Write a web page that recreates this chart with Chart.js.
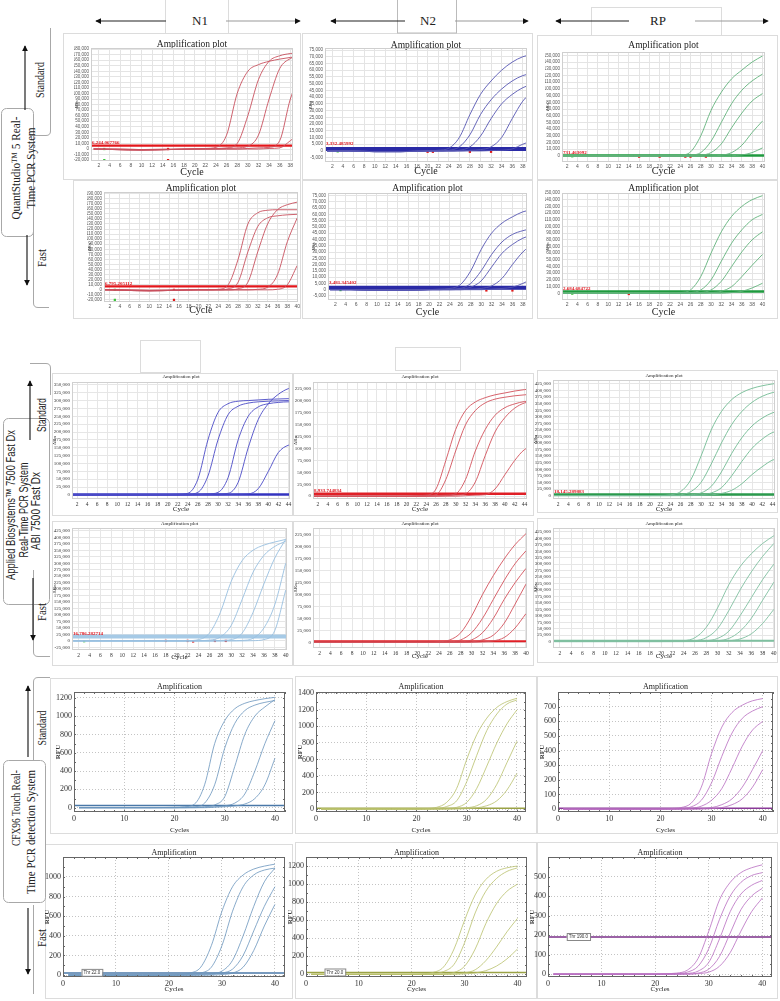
<!DOCTYPE html>
<html>
<head>
<meta charset="utf-8">
<title>Amplification plots</title>
<script src="https://cdn.jsdelivr.net/npm/chart.js@4.4.1/dist/chart.umd.min.js"></script>
<style>
  body { margin: 0; background: #fff; }
  #page { position: relative; width: 780px; height: 1001px; overflow: hidden; background: #fff; }
  #page canvas { position: absolute; }
  #deco { position: absolute; left: 0; top: 0; }
</style>
</head>
<body>
<div id="page">
<svg id="deco" width="780" height="1001" xmlns="http://www.w3.org/2000/svg" fill="none">
  <defs>
    <marker id="ah" viewBox="0 0 8 8" refX="7" refY="4" markerWidth="5" markerHeight="5" orient="auto">
      <path d="M0,0 L8,4 L0,8 z" fill="#111"/>
    </marker>
  </defs>
  <!-- panel frames -->
  <g stroke="#dcdcdc" stroke-width="1">
    <rect x="63.5" y="33.5" width="237" height="146"/>
    <rect x="302.5" y="33.5" width="230" height="146"/>
    <rect x="537.5" y="35.5" width="240" height="144"/>
    <rect x="73.5" y="180.5" width="227" height="138"/>
    <rect x="302.5" y="180.5" width="230" height="138"/>
    <rect x="537.5" y="180.5" width="240" height="138"/>
    <rect x="52.5" y="373.5" width="240" height="142"/>
    <rect x="293.5" y="373.5" width="240" height="142"/>
    <rect x="537.5" y="370.5" width="240" height="142"/>
    <rect x="52.5" y="521.5" width="240" height="144"/>
    <rect x="293.5" y="521.5" width="240" height="144"/>
    <rect x="537.5" y="518.5" width="240" height="144"/>
    <rect x="50.5" y="678.5" width="242" height="155"/>
    <rect x="295.5" y="676.5" width="241" height="157"/>
    <rect x="537.5" y="676.5" width="240" height="157"/>
    <rect x="45.5" y="844.5" width="247" height="154"/>
    <rect x="295.5" y="842.5" width="241" height="156"/>
    <rect x="537.5" y="842.5" width="240" height="156"/>
    <!-- header boxes -->
    <path d="M165.5,0 V33 M228.5,0 V33"/>
    <rect x="397.5" y="-1" width="59" height="34" stroke="#bbb"/>
    <rect x="591.5" y="7.5" width="130" height="28"/>
    <rect x="140.5" y="340.5" width="60" height="32"/>
    <rect x="395.5" y="347.5" width="65" height="23"/>
  </g>
  <!-- side label boxes -->
  <g stroke="#a8a8a8" stroke-width="1">
    <path d="M50.5,28 V131 Q50.5,135.5 46,135.5 H30"/>
    <rect x="1.5" y="108.5" width="32" height="128" rx="5"/>
    <path d="M33.5,205 V303 Q33.5,307.5 38,307.5 H49"/>
    <path d="M30,363.5 H46 Q50.5,363.5 50.5,368 V395"/>
    <rect x="3.5" y="418.5" width="46" height="186" rx="5"/>
    <path d="M33.5,570 V652 Q33.5,656.5 38,656.5 H50"/>
    <path d="M33.5,760 V682 Q33.5,677.5 38,677.5 H50"/>
    <rect x="3.5" y="760.5" width="42" height="142" rx="5"/>
    <path d="M33.5,905 V994"/>
  </g>
  <!-- arrows -->
  <g stroke="#222" stroke-width="1.2" marker-end="url(#ah)">
    <line x1="166" y1="21" x2="96" y2="21"/>
    <line x1="405" y1="21" x2="331" y2="21"/>
    <line x1="629" y1="21" x2="556" y2="21"/>
    <line x1="25" y1="110" x2="25" y2="46"/>
    <line x1="27" y1="235" x2="27" y2="285"/>
    <line x1="30" y1="440" x2="30" y2="381"/>
    <line x1="33" y1="578" x2="33" y2="640"/>
    <line x1="28" y1="757" x2="28" y2="686"/>
    <line x1="28" y1="908" x2="28" y2="974"/>
  </g>
  <g stroke="#999" stroke-width="1.2" marker-end="url(#ah)">
    <line x1="226" y1="21" x2="300" y2="21"/>
    <line x1="455" y1="21" x2="528" y2="21"/>
    <line x1="695" y1="21" x2="768" y2="21"/>
  </g>
  <!-- texts -->
  <g fill="#222" stroke="none" font-family="Liberation Serif, serif">
    <text x="200" y="25" font-size="13" text-anchor="middle">N1</text>
    <text x="428" y="25" font-size="13" text-anchor="middle">N2</text>
    <text x="658" y="25" font-size="13" text-anchor="middle">RP</text>

    <text transform="translate(15,168) rotate(-90)" font-size="13" text-anchor="middle" dominant-baseline="central" textLength="103" lengthAdjust="spacingAndGlyphs">QuantStudio™ 5 Real-</text>
    <text transform="translate(30,168) rotate(-90)" font-size="13" text-anchor="middle" dominant-baseline="central" textLength="81" lengthAdjust="spacingAndGlyphs">Time PCR System</text>
    <text transform="translate(40,80) rotate(-90)" font-size="12" text-anchor="middle" dominant-baseline="central" textLength="36" lengthAdjust="spacingAndGlyphs">Standard</text>
    <text transform="translate(42,258) rotate(-90)" font-size="12" text-anchor="middle" dominant-baseline="central" textLength="18" lengthAdjust="spacingAndGlyphs">Fast</text>

    <g font-family="Liberation Sans, sans-serif">
      <text transform="translate(10,505) rotate(-90)" font-size="13" text-anchor="middle" dominant-baseline="central" textLength="150" lengthAdjust="spacingAndGlyphs">Applied Biosystems™ 7500 Fast Dx</text>
      <text transform="translate(23,510) rotate(-90)" font-size="13" text-anchor="middle" dominant-baseline="central" textLength="95" lengthAdjust="spacingAndGlyphs">Real-Time PCR System</text>
      <text transform="translate(35,511) rotate(-90)" font-size="13" text-anchor="middle" dominant-baseline="central" textLength="78" lengthAdjust="spacingAndGlyphs">ABI 7500 Fast Dx</text>
      <text transform="translate(42,415) rotate(-90)" font-size="12" text-anchor="middle" dominant-baseline="central" textLength="34" lengthAdjust="spacingAndGlyphs">Standard</text>
    </g>
    <text transform="translate(42,612) rotate(-90)" font-size="12" text-anchor="middle" dominant-baseline="central" textLength="18" lengthAdjust="spacingAndGlyphs">Fast</text>

    <text transform="translate(15,808) rotate(-90)" font-size="13" text-anchor="middle" dominant-baseline="central" textLength="76" lengthAdjust="spacingAndGlyphs">CFX96 Touch Real-</text>
    <text transform="translate(30,832) rotate(-90)" font-size="13" text-anchor="middle" dominant-baseline="central" textLength="124" lengthAdjust="spacingAndGlyphs">Time PCR detection System</text>
    <text transform="translate(42,728) rotate(-90)" font-size="12" text-anchor="middle" dominant-baseline="central" textLength="35" lengthAdjust="spacingAndGlyphs">Standard</text>
    <text transform="translate(42,938) rotate(-90)" font-size="12" text-anchor="middle" dominant-baseline="central" textLength="18" lengthAdjust="spacingAndGlyphs">Fast</text>
  </g>
</svg>
</div>

<script>
const cyc40 = [1, 5, 10, 15, 20, 22, 24, 26, 28, 30, 32, 34, 36, 38, 40];
const cyc45 = [1, 5, 10, 15, 20, 22, 24, 26, 28, 30, 32, 34, 36, 38, 40, 42, 44, 45];

// x tick labels
const xEven38 = [2,4,6,8,10,12,14,16,18,20,22,24,26,28,30,32,34,36,38];
const xEven40 = [2,4,6,8,10,12,14,16,18,20,22,24,26,28,30,32,34,36,38,40];
const xEven44 = [2,4,6,8,10,12,14,16,18,20,22,24,26,28,30,32,34,36,38,40,42,44];
const xCfx = [0, 10, 20, 30, 40];

// y tick labels (QuantStudio / ABI in thousands of dRn, CFX in RFU)
const yQsStdN1 = [-20,-10,0,10,20,30,40,50,60,70,80,90,100,110,120,130,140,150,160,170,180];
const yQsN2 = [-5,0,5,10,15,20,25,30,35,40,45,50,55,60,65,70,75];
const yQsRP = [0,10,20,30,40,50,60,70,80,90,100,110,120,130,140,150];
const yQsFastN1 = [-20,-10,0,10,20,30,40,50,60,70,80,90,100,110,120,130,140,150,160,170,180,190];
const yAbi350 = [0,25,50,75,100,125,150,175,200,225,250,275,300,325,350];
const yAbi225 = [0,25,50,75,100,125,150,175,200,225];
const yAbi425 = [0,25,50,75,100,125,150,175,200,225,250,275,300,325,350,375,400,425];
const yAbiFastN1 = [-25,0,25,50,75,100,125,150,175,200,225,250,275,300,325,350,375,400,425];
const yCfx1200 = [0,200,400,600,800,1000,1200];
const yCfx1400 = [0,200,400,600,800,1000,1200,1400];
const yCfx700 = [0,100,200,300,400,500,600,700];
const yCfx1000 = [0,200,400,600,800,1000];
const yCfx500 = [0,100,200,300,400,500];

// QuantStudio 5, standard run (thousands)
const qsStdN1 = [
  [0,-1,-2,-1,0,1,3,25,100,140,152,158,162,165,167],
  [0,-1,-2,-1,0,0,1,2,10,60,125,158,168,172,174],
  [0,-1,-2,-1,0,0,0,1,2,5,25,90,145,163,170],
  [0,0,-1,-1,0,0,0,0,0,1,2,3,15,90,135],
  [0,0,-1,0,0,0,0,0,0,0,0,1,2,15,30]
];
const qsStdN2 = [
  [0,0,-0.5,-0.5,0,0.5,2,10,27,42,52,60,66,70,72],
  [0,0,-0.5,-0.5,0,0,0.5,3,12,27,38,46,52,56,58],
  [0,0,-0.5,-0.5,0,0,0,0.5,3,11,24,35,42,47,50],
  [0,0,-0.5,-0.5,0,0,0,0,0.5,1,3,10,24,37,45],
  [0,0,-0.5,-0.5,0,0,0,0,0,0,0.3,0.5,1.5,5,8]
];
const qsStdRP = [
  [0,0,0,0,0,0,1,6,30,68,95,115,128,140,149],
  [0,0,0,0,0,0,0,1,5,22,50,78,98,112,122],
  [0,0,0,0,0,0,0,0,1,5,18,42,64,82,93],
  [0,0,0,0,0,0,0,0,0,0,1,5,16,35,52],
  [0,0,0,0,0,0,0,0,0,0,0,0.5,1.5,5,12]
];
// QuantStudio 5, fast run
const qsFastN1 = [
  [0,-1,-2,-1,0,0,1,10,60,130,152,157,158,158,158],
  [0,-1,-2,-1,0,0,0,2,15,75,125,142,146,148,149],
  [0,-1,-2,-1,0,0,0,0,2,15,75,130,158,168,173],
  [0,0,-1,-1,0,0,0,0,0,0,1,5,30,95,142],
  [0,0,-1,0,0,0,0,0,0,0,0,0,1,10,48]
];
const qsFastN2 = [
  [0,0,-0.5,-0.5,0,0.5,1,4,15,32,45,53,58,62,64],
  [0,0,-0.5,-0.5,0,0,0.5,1,5,15,28,38,44,47,49],
  [0,0,-0.5,-0.5,0,0,0,0.5,2,7,18,29,36,41,44],
  [0,0,-0.5,-0.5,0,0,0,0,0.5,1,3,9,20,30,37],
  [0,0,-0.5,-0.5,0,0,0,0,0,0,0.5,1,2,5,9]
];
const qsFastRP = [
  [0,0,0,0,0,0,1,5,25,60,92,115,130,140,146],
  [0,0,0,0,0,0,0,1,5,20,48,75,95,110,118],
  [0,0,0,0,0,0,0,0,1,5,18,40,62,80,92],
  [0,0,0,0,0,0,0,0,0,1,3,10,25,42,58],
  [0,0,0,0,0,0,0,0,0,0,0,1,3,8,15]
];

// ABI 7500 Fast Dx, standard run (thousands, 45 cycles)
const abiStdN1 = [
  [0,0,0,0,1,2,5,50,175,262,290,298,300,302,304,305,306,306],
  [0,0,0,0,0,1,2,8,60,175,255,282,292,296,298,299,300,300],
  [0,0,0,0,0,0,1,2,3,8,55,175,250,280,290,294,296,296],
  [0,0,0,0,0,0,0,1,2,3,5,40,150,240,290,320,338,340],
  [0,0,0,0,0,0,0,0,0,0,1,2,3,20,75,135,158,160]
];
const abiStdN2 = [
  [0,0,0,0,0,1,2,15,75,140,180,198,207,213,217,221,224,225],
  [0,0,0,0,0,0,1,3,35,95,150,180,196,204,208,211,213,214],
  [0,0,0,0,0,0,0,1,2,5,35,95,140,170,186,194,199,200],
  [0,0,0,0,0,0,0,0,1,2,5,30,85,135,165,185,196,198],
  [0,0,0,0,0,0,0,0,0,0,1,2,3,15,45,75,98,102]
];
const abiStdRP = [
  [0,0,0,0,0,1,3,15,60,150,250,320,365,392,408,418,425,428],
  [0,0,0,0,0,0,1,3,15,50,120,200,270,320,355,378,392,396],
  [0,0,0,0,0,0,0,1,3,10,35,90,160,220,265,295,315,320],
  [0,0,0,0,0,0,0,0,1,3,10,30,75,130,180,215,240,245],
  [0,0,0,0,0,0,0,0,0,1,3,8,20,45,80,110,135,140]
];
// ABI 7500 Fast Dx, fast run
const abiFastN1 = [
  [0,0,0,0,0,1,5,30,110,230,310,350,370,382,392],
  [0,0,0,0,0,0,1,3,15,60,160,265,330,365,385],
  [0,0,0,0,0,0,0,0,2,5,30,110,220,320,392],
  [0,0,0,0,0,0,0,0,0,1,2,10,50,140,300],
  [0,0,0,0,0,0,0,0,0,0,0,1,5,40,196]
];
const abiFastN2 = [
  [0,0,0,0,0,0,1,5,20,55,100,140,175,205,228],
  [0,0,0,0,0,0,0,1,5,20,50,90,130,165,192],
  [0,0,0,0,0,0,0,0,1,5,20,50,90,125,155],
  [0,0,0,0,0,0,0,0,0,1,5,15,40,80,122],
  [0,0,0,0,0,0,0,0,0,0,1,3,10,30,60]
];
const abiFastRP = [
  [0,0,0,0,0,1,3,15,55,130,220,290,340,380,410],
  [0,0,0,0,0,0,1,3,15,50,120,200,270,330,380],
  [0,0,0,0,0,0,0,1,3,12,40,100,170,240,300],
  [0,0,0,0,0,0,0,0,1,3,12,40,90,160,230],
  [0,0,0,0,0,0,0,0,0,1,3,10,30,70,125]
];

// CFX96 Touch, standard run (RFU)
const cfxStdN1 = [
  [0,0,0,0,5,10,40,250,700,950,1080,1140,1170,1190,1205],
  [0,0,0,0,0,5,10,50,250,650,920,1060,1120,1150,1170],
  [0,0,0,0,0,0,5,10,30,120,450,800,1000,1100,1180],
  [0,0,0,0,0,0,0,5,10,20,50,150,400,700,950],
  [0,0,0,0,0,0,0,0,5,10,20,40,100,250,540]
];
const cfxStdN2 = [
  [0,0,0,0,0,5,20,80,250,600,900,1100,1230,1300,1340],
  [0,0,0,0,0,0,5,30,100,330,650,950,1150,1270,1320],
  [0,0,0,0,0,0,0,5,20,80,250,520,800,1030,1200],
  [0,0,0,0,0,0,0,0,5,15,40,120,300,560,820],
  [0,0,0,0,0,0,0,0,0,5,15,40,100,230,430]
];
const cfxStdRP = [
  [0,0,0,0,0,3,10,40,150,380,560,660,710,740,755],
  [0,0,0,0,0,0,3,15,60,180,360,520,620,670,700],
  [0,0,0,0,0,0,0,5,20,60,140,280,430,540,600],
  [0,0,0,0,0,0,0,0,3,10,30,70,150,270,400],
  [0,0,0,0,0,0,0,0,0,3,10,30,70,150,270]
];
// CFX96 Touch, fast run
const cfxFastN1 = [
  [0,0,0,0,0,5,20,80,300,650,900,1020,1080,1110,1130],
  [0,0,0,0,0,0,5,20,80,300,650,900,1020,1070,1090],
  [0,0,0,0,0,0,0,5,15,40,150,400,700,950,1090],
  [0,0,0,0,0,0,0,0,5,20,60,200,450,700,900],
  [0,0,0,0,0,0,0,0,0,5,20,80,250,500,720]
];
const cfxFastN2 = [
  [0,0,0,0,0,5,20,80,280,600,880,1050,1140,1180,1200],
  [0,0,0,0,0,0,5,30,110,350,680,920,1060,1140,1180],
  [0,0,0,0,0,0,0,5,20,90,280,560,780,920,1000],
  [0,0,0,0,0,0,0,0,5,15,50,150,300,470,620],
  [0,0,0,0,0,0,0,0,0,5,15,40,90,170,280]
];
const cfxFastRP = [
  [0,0,0,0,0,2,5,20,80,220,380,470,520,545,560],
  [0,0,0,0,0,0,2,10,40,130,280,400,470,505,520],
  [0,0,0,0,0,0,0,3,15,60,180,320,410,455,480],
  [0,0,0,0,0,0,0,0,5,25,90,210,330,400,440],
  [0,0,0,0,0,0,0,0,2,10,40,110,220,320,390]
];

// well markers (cycle, value)
const qsStdN1Red = [{x:15,y:0},{x:15,y:-20}], qsStdN1Green = [{x:3,y:0},{x:3,y:-20}];
const qsStdN2Red = [{x:20,y:-0.6},{x:21,y:-0.6},{x:28,y:-0.6},{x:32,y:-0.6}], qsStdN2Green = [{x:3,y:-0.3}];
const qsStdRPRed = [{x:16,y:-1},{x:20,y:-1},{x:25,y:-1},{x:26,y:-1},{x:29,y:-1}], qsStdRPGreen = [{x:3,y:-0.5}];
const qsFastN1Red = [{x:15,y:0},{x:15,y:-20}], qsFastN1Green = [{x:3,y:0},{x:3,y:-20}];
const qsFastN2Red = [{x:31,y:-0.6},{x:36,y:-0.6}], qsFastN2Green = [{x:3,y:-0.3}];
const qsFastRPRed = [{x:14,y:-1}], qsFastRPGreen = [{x:3,y:-0.5}];
const abiFastN1Red = [{x:18,y:0},{x:22,y:0},{x:23,y:-2},{x:27,y:0},{x:29,y:0}], abiFastN1Green = [{x:3,y:-1}];

const page = document.getElementById('page');

const styles = {
  qs: { tick: {family:'Liberation Sans', size:4.5}, tickCol:'#555', grid:'#e4e4e4', frame:'#cfcfcf',
        title: '9.5px "Liberation Serif"', xTitle:'Cycle', xTitleFont:{family:'Liberation Serif', size:10},
        yTitle:'ΔRn', yTitleFont:{family:'Liberation Sans', size:4}, lw:0.9, dash:[] },
  abi: { tick: {family:'Liberation Serif', size:5}, tickCol:'#333', grid:'#e6e6e6', frame:'#d0d0d0',
        title: '5px "Liberation Serif"', xTitle:'Cycle', xTitleFont:{family:'Liberation Serif', size:7},
        yTitle:'ΔRn', yTitleFont:{family:'Liberation Serif', size:5}, lw:0.9, dash:[] },
  cfx: { tick: {family:'Liberation Serif', size:8}, tickCol:'#333', grid:'#c4c4c4', frame:'#666',
        title: '8px "Liberation Serif"', xTitle:'Cycles', xTitleFont:{family:'Liberation Serif', size:7},
        yTitle:'RFU', yTitleFont:{family:'Liberation Serif', size:7, weight:'bold'}, lw:0.8, dash:[1,2] }
};

const specs = [
  // row 1: QuantStudio standard
  {style:'qs', title:'Amplification plot', l:91, r:293, t:48, b:161, tY:44, yw:17, xh:17,
   x:[0.5,38.5], xt:xEven38, y:[-21.6,182], yt:yQsStdN1, cyc:cyc40, curves:qsStdN1, col:'#c8505e',
   thr:6.244, thrCol:'#e3161b', thrW:2.2, thrLabel:'6,244.067766', red:qsStdN1Red, green:qsStdN1Green},
  {style:'qs', title:'Amplification plot', l:325, r:527, t:48, b:162, tY:45, yw:17, xh:15,
   x:[0.6,38.8], xt:xEven38, y:[-8.2,76.5], yt:yQsN2, cyc:cyc40, curves:qsStdN2, col:'#5656b2',
   thr:1.4, thrCol:'#2a2aa6', thrW:4, thrLabel:'3,332.485992', thrLabelY:3.3, red:qsStdN2Red, green:qsStdN2Green},
  {style:'qs', title:'Amplification plot', l:562, r:765, t:52, b:162, tY:45, yw:17, xh:15,
   x:[1,40.5], xt:xEven40, y:[-9,155], yt:yQsRP, cyc:cyc40, curves:qsStdRP, col:'#62b27c',
   thr:0.8, thrCol:'#1e9a3e', thrW:2.5, thrLabel:'731.463092', red:qsStdRPRed, green:qsStdRPGreen},
  // row 2: QuantStudio fast
  {style:'qs', title:'Amplification plot', l:104, r:298, t:192, b:302, tY:188, yw:17, xh:14,
   x:[0.8,40.1], xt:xEven40, y:[-24,193], yt:yQsFastN1, cyc:cyc40, curves:qsFastN1, col:'#c8505e',
   thr:6.8, thrCol:'#e3161b', thrW:2.2, thrLabel:'6,795.205112', red:qsFastN1Red, green:qsFastN1Green},
  {style:'qs', title:'Amplification plot', l:328, r:527, t:193, b:300, tY:188, yw:17, xh:18,
   x:[0.6,38.8], xt:xEven38, y:[-8.2,77], yt:yQsN2, cyc:cyc40, curves:qsFastN2, col:'#5656b2',
   thr:1.6, thrCol:'#2a2aa6', thrW:4, thrLabel:'3,481.345402', thrLabelY:3.5, red:qsFastN2Red, green:qsFastN2Green},
  {style:'qs', title:'Amplification plot', l:562, r:765, t:193, b:300, tY:188, yw:17, xh:18,
   x:[1,40.5], xt:xEven40, y:[-10,150], yt:yQsRP, cyc:cyc40, curves:qsFastRP, col:'#62b27c',
   thr:2.7, thrCol:'#1e9a3e', thrW:2.5, thrLabel:'2,684.684722', red:qsFastRPRed, green:qsFastRPGreen},
  // row 3: ABI standard
  {style:'abi', title:'Amplification plot', l:72, r:290, t:382, b:499, tY:377, yw:20, xh:14,
   x:[1,44.3], xt:xEven44, y:[-13,359], yt:yAbi350, cyc:cyc45, curves:abiStdN1, col:'#4a4ac6',
   thr:1, thrCol:'#3434c0', thrW:2.5},
  {style:'abi', title:'Amplification plot', l:313, r:527, t:382, b:499, tY:377, yw:20, xh:14,
   x:[1,44.5], xt:xEven44, y:[-6,240], yt:yAbi225, cyc:cyc45, curves:abiStdN2, col:'#d2515b',
   thr:5, thrCol:'#e01f26', thrW:2.5, thrLabel:'8,933.744834'},
  {style:'abi', title:'Amplification plot', l:553, r:775, t:380, b:499, tY:376, yw:20, xh:14,
   x:[1,44.5], xt:xEven44, y:[-13,440], yt:yAbi425, cyc:cyc45, curves:abiStdRP, col:'#72bb93',
   thr:4, thrCol:'#2a9a4c', thrW:2.5, thrLabel:'18,145.289883'},
  // row 4: ABI fast
  {style:'abi', title:'Amplification plot', l:72, r:287, t:528, b:650, tY:524, yw:20, xh:11,
   x:[0.77,40.24], xt:xEven40, y:[-35,436], yt:yAbiFastN1, cyc:cyc40, curves:abiFastN1, col:'#98c0e0',
   thr:16.8, thrCol:'#a6cae6', thrW:4, thrLabel:'16,786.282714', red:abiFastN1Red, green:abiFastN1Green},
  {style:'abi', title:'Amplification plot', l:313, r:527, t:528, b:648, tY:524, yw:20, xh:12,
   x:[0.8,40.2], xt:xEven40, y:[-12,240], yt:yAbi225, cyc:cyc40, curves:abiFastN2, col:'#d2515b',
   thr:2, thrCol:'#e01f26', thrW:2},
  {style:'abi', title:'Amplification plot', l:553, r:775, t:528, b:648, tY:524, yw:20, xh:12,
   x:[0.8,40.2], xt:xEven40, y:[-25,440], yt:yAbi425, cyc:cyc40, curves:abiFastRP, col:'#80c0a0',
   thr:3, thrCol:'#7fc0a0', thrW:2},
  // row 5: CFX standard
  {style:'cfx', title:'Amplification', l:74, r:285, t:692, b:812, tY:687, yw:20, xh:22,
   x:[0,42], xt:xCfx, y:[-47,1263], yt:yCfx1200, cyc:cyc40, curves:cfxStdN1, col:'#6a94bd',
   thr:25, thrCol:'#4a78a8', thrW:1.5, minorY:100},
  {style:'cfx', title:'Amplification', l:316, r:526, t:692, b:812, tY:687, yw:20, xh:22,
   x:[0,41.8], xt:xCfx, y:[-36,1416], yt:yCfx1400, cyc:cyc40, curves:cfxStdN2, col:'#b9c06c',
   thr:10, thrCol:'#9aa245', thrW:1.5, minorY:100},
  {style:'cfx', title:'Amplification', l:558, r:773, t:692, b:812, tY:687, yw:20, xh:22,
   x:[0,42], xt:xCfx, y:[-20,800], yt:yCfx700, cyc:cyc40, curves:cfxStdRP, col:'#b86cc0',
   thr:5, thrCol:'#8a3a98', thrW:1.5, minorY:50},
  // row 6: CFX fast
  {style:'cfx', title:'Amplification', l:63, r:285, t:857, b:977, tY:853, yw:20, xh:16,
   x:[0,41.9], xt:xCfx, y:[-20,1203], yt:yCfx1000, cyc:cyc40, curves:cfxFastN1, col:'#6a94bd',
   thr:22, thrCol:'#4a78a8', thrW:1.5, minorY:100, thrBox:'Thr 22.0'},
  {style:'cfx', title:'Amplification', l:306, r:527, t:857, b:977, tY:853, yw:20, xh:16,
   x:[0,41.8], xt:xCfx, y:[-30,1300], yt:yCfx1200, cyc:cyc40, curves:cfxFastN2, col:'#b9c06c',
   thr:20, thrCol:'#9aa245', thrW:1.5, minorY:100, thrBox:'Thr 20.0'},
  {style:'cfx', title:'Amplification', l:548, r:772, t:857, b:977, tY:853, yw:20, xh:16,
   x:[0,41.8], xt:xCfx, y:[-15,600], yt:yCfx500, cyc:cyc40, curves:cfxFastRP, col:'#b86cc0',
   thr:190, thrCol:'#7a2f88', thrW:1.5, minorY:50, thrBox:'Thr 190.0'}
];

// title, frame, threshold label and CFX minor ticks
const decor = {
  id: 'decor',
  afterDraw(chart, args, o) {
    const {ctx, chartArea: a, scales: {x, y}} = chart;
    ctx.save();
    ctx.fillStyle = '#222';
    ctx.font = o.titleFont;
    ctx.textAlign = 'center';
    ctx.textBaseline = 'middle';
    ctx.fillText(o.title, (a.left + a.right) / 2, o.titleY);

    ctx.strokeStyle = o.frame;
    ctx.lineWidth = 1;
    ctx.strokeRect(Math.round(a.left) + 0.5, Math.round(a.top) + 0.5, Math.round(a.width) - 1, Math.round(a.height) - 1);

    if (o.minorY) {
      ctx.beginPath();
      for (let c = 0; c <= x.max; c += 2) {
        const px = Math.round(x.getPixelForValue(c)) + 0.5;
        ctx.moveTo(px, a.bottom); ctx.lineTo(px, a.bottom - 2);
        ctx.moveTo(px, a.top); ctx.lineTo(px, a.top + 2);
      }
      for (let v = 0; v <= y.max; v += o.minorY) {
        const py = Math.round(y.getPixelForValue(v)) + 0.5;
        ctx.moveTo(a.left, py); ctx.lineTo(a.left + 2, py);
        ctx.moveTo(a.right, py); ctx.lineTo(a.right - 2, py);
      }
      ctx.stroke();
    }
    if (o.thrLabel) {
      ctx.fillStyle = '#e0141c';
      ctx.font = 'bold 5px "Liberation Serif"';
      ctx.textAlign = 'left';
      ctx.textBaseline = 'bottom';
      ctx.fillText(o.thrLabel, a.left + 1, y.getPixelForValue(o.thrLabelY) - 0.5);
    }
    if (o.thrBox) {
      const px = x.getPixelForValue(3.5), py = y.getPixelForValue(o.thrLabelY);
      ctx.font = '4.5px "Liberation Sans"';
      const w = ctx.measureText(o.thrBox).width + 4;
      ctx.fillStyle = '#fff';
      ctx.strokeStyle = '#888';
      ctx.fillRect(px, py - 4, w, 7);
      ctx.strokeRect(px + 0.5, py - 3.5, w, 7);
      ctx.fillStyle = '#333';
      ctx.textAlign = 'left';
      ctx.textBaseline = 'middle';
      ctx.fillText(o.thrBox, px + 2, py);
    }
    ctx.restore();
  }
};

function fmtK(v) { return (v * 1000).toLocaleString('en-US'); }

function makeChart(s) {
  const st = styles[s.style];
  const top = s.tY - 8, pt = s.t - top, pr = 4;
  const cv = document.createElement('canvas');
  cv.width = s.r - s.l + s.yw + pr;
  cv.height = s.b - s.t + pt + s.xh;
  cv.style.left = (s.l - s.yw) + 'px';
  cv.style.top = top + 'px';
  page.appendChild(cv);

  const datasets = s.curves.map(vals => ({
    data: vals.map((v, i) => ({x: s.cyc[i], y: v})),
    borderColor: s.col, borderWidth: st.lw, pointRadius: 0,
    cubicInterpolationMode: 'monotone', fill: false
  }));
  datasets.push({
    data: [{x: s.x[0], y: s.thr}, {x: s.x[1], y: s.thr}],
    borderColor: s.thrCol, borderWidth: s.thrW, pointRadius: 0
  });
  if (s.red) datasets.push({type: 'scatter', data: s.red, pointStyle: 'rect', pointRadius: 1.6,
    backgroundColor: '#e01a1a', borderWidth: 0});
  if (s.green) datasets.push({type: 'scatter', data: s.green, pointStyle: 'rect', pointRadius: 1.6,
    backgroundColor: '#3cc43c', borderWidth: 0});

  const cfx = s.style === 'cfx';
  new Chart(cv, {
    type: 'line',
    data: {datasets},
    options: {
      responsive: false,
      animation: false,
      layout: {padding: {left: 0, right: pr, top: pt, bottom: 0}, autoPadding: false},
      plugins: {
        legend: {display: false},
        tooltip: {enabled: false},
        decor: {title: s.title, titleFont: st.title, titleY: s.tY - top, frame: st.frame,
                thrLabel: s.thrLabel, thrLabelY: s.thrLabelY != null ? s.thrLabelY : s.thr,
                minorY: s.minorY, thrBox: s.thrBox}
      },
      scales: {
        x: {
          type: 'linear', min: s.x[0], max: s.x[1],
          afterBuildTicks: sc => { sc.ticks = s.xt.map(v => ({value: v})); },
          afterFit: sc => { sc.height = s.xh; },
          ticks: {font: cfx ? st.tick : {family: st.tick.family, size: st.tick.size + 0.5},
                  color: st.tickCol, padding: 2, maxRotation: 0, autoSkip: false},
          grid: {color: st.grid, drawTicks: false, lineWidth: 1},
          border: {display: false, dash: st.dash},
          title: {display: true, text: st.xTitle, font: st.xTitleFont, color: '#222', padding: 0}
        },
        y: {
          type: 'linear', min: s.y[0], max: s.y[1],
          afterBuildTicks: sc => { sc.ticks = s.yt.map(v => ({value: v})); },
          afterFit: sc => { sc.width = s.yw; },
          ticks: {font: st.tick, color: st.tickCol, padding: 2, autoSkip: false,
                  callback: v => cfx ? String(v) : fmtK(v)},
          grid: {color: st.grid, drawTicks: false, lineWidth: 1},
          border: {display: false, dash: st.dash},
          title: {display: true, text: st.yTitle, font: st.yTitleFont, color: '#333', padding: 0}
        }
      }
    },
    plugins: [decor]
  });
}

specs.forEach(makeChart);
</script>
</body>
</html>
